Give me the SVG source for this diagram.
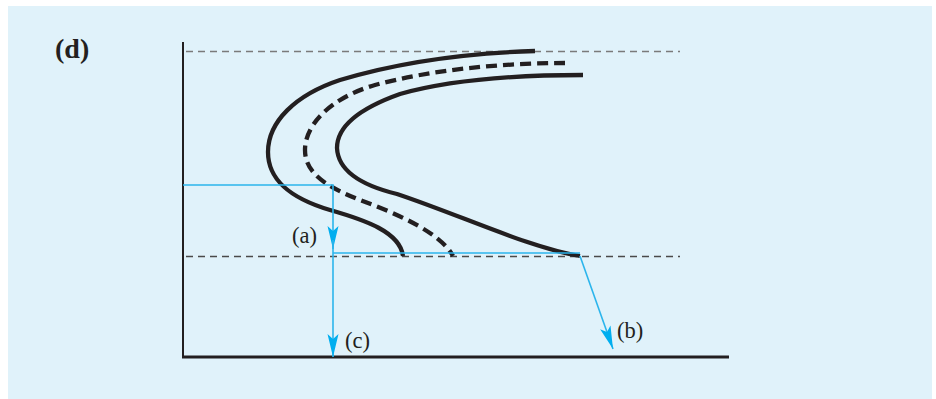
<svg xmlns="http://www.w3.org/2000/svg" width="936" height="399" viewBox="0 0 936 399">
<defs>
<style>
.curve{fill:none;stroke:#231F20;stroke-width:4.3;stroke-linecap:butt}
.dash{stroke-dasharray:11 6}
.blue{fill:none;stroke:#2BB5EC;stroke-width:1.6}
.lbl{font-family:"Liberation Serif","Times New Roman",serif;font-size:22.5px;fill:#231F20}
.guide{fill:none;stroke-width:1.4;stroke-dasharray:7 5}
</style>
<marker id="ah" viewBox="-23 -6 23 12" refX="0" refY="0" markerWidth="23" markerHeight="12" markerUnits="userSpaceOnUse" orient="auto">
<path d="M0,0 L-23,-5.5 L-18,0 L-23,5.5 Z" fill="#00AEEF"/>
</marker>
</defs>
<rect x="0" y="0" width="936" height="399" fill="#FFFFFF"/>
<rect x="8" y="6" width="924" height="393" fill="#E0F2FA"/>
<g id="title"><text x="55" y="58" font-family="Liberation Serif, Times New Roman, serif" font-size="28" font-weight="bold" fill="#231F20">(d)</text></g>
<g id="guides">
<line class="guide" x1="186" y1="51.5" x2="680" y2="51.5" stroke="#7A7A7A"/>
<line class="guide" x1="186" y1="256.5" x2="680" y2="256.5" stroke="#4A4A4A"/>
</g>
<g id="axes">
<line x1="183" y1="42" x2="183" y2="358" stroke="#231F20" stroke-width="2"/>
<line x1="182" y1="357" x2="729" y2="357" stroke="#231F20" stroke-width="3"/>
</g>
<g id="curve-outer"><path class="curve" d="M535,51 C470,53 400,62 340,80 C295,95 268,122 268,152 C268,180 290,198 330,210 C365,220 400,232 403,256"/></g>
<g id="curve-dashed"><path class="curve dash" d="M565,63 C500,63 430,70 375,85 C330,98 305,125 305,150 C305,175 330,188 360,200 C395,213 440,232 453,256"/></g>
<g id="curve-inner"><path class="curve" d="M583,75 C520,75 450,80 400,94 C355,110 337,128 337,148 C338,170 360,185 397,194 C460,215 530,248 580,256"/></g>
<g id="connectors">
<polyline class="blue" points="183,185 333,185 333,249" marker-end="url(#ah)"/>
<line class="blue" x1="333" y1="240" x2="333" y2="357" marker-end="url(#ah)"/>
<line class="blue" x1="333" y1="253" x2="580" y2="253"/>
<line class="blue" x1="580" y1="256" x2="613" y2="349" marker-end="url(#ah)"/>
</g>
<g id="labels">
<text class="lbl" x="292" y="243">(a)</text>
<text class="lbl" x="345" y="348">(c)</text>
<text class="lbl" x="617" y="338">(b)</text>
</g>
</svg>
